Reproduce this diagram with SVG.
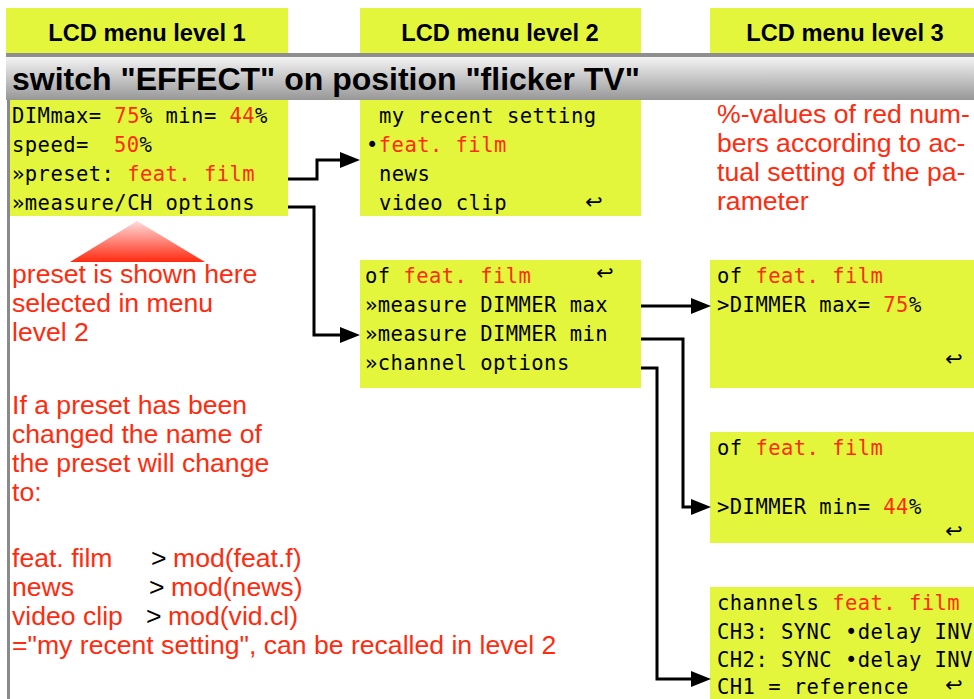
<svg xmlns="http://www.w3.org/2000/svg" width="974" height="699" viewBox="0 0 974 699">
<defs>
<linearGradient id="bar" x1="0" y1="0" x2="0" y2="1"><stop offset="0" stop-color="#f4f4f4"/><stop offset="1" stop-color="#979797"/></linearGradient>
<linearGradient id="tri" x1="0" y1="0" x2="0" y2="1"><stop offset="0" stop-color="#ffdcdc"/><stop offset="1" stop-color="#ff2a10"/></linearGradient>
<marker id="ah" markerUnits="userSpaceOnUse" markerWidth="20" markerHeight="16" refX="0" refY="8" orient="auto"><path d="M0,0 L20,8 L0,16 z" fill="#000"/></marker>
</defs>
<style>
.lcd{fill:#e3f63b}
.mono{font-family:"DejaVu Sans Mono","DejaVu Sans",monospace;font-size:20.5px;letter-spacing:0.45px;fill:#000;white-space:pre}
.ret{font-family:"DejaVu Sans",sans-serif;font-size:21px;fill:#000}
.r{fill:#ff2b0e}
.hd{font-family:"Liberation Sans",Arial,sans-serif;font-weight:bold;font-size:23.7px;fill:#000;text-anchor:middle}
.note{font-family:"Liberation Sans",Arial,sans-serif;font-size:26.6px;fill:#ff2b0e}
.blk{fill:#000}
.conn{fill:none;stroke:#000;stroke-width:3}
</style>
<rect width="974" height="699" fill="#fff"/>
<g id="header1"><rect class="lcd" x="6" y="8" width="282" height="45"/><text class="hd" x="147" y="41">LCD menu level 1</text></g>
<g id="header2"><rect class="lcd" x="360" y="8" width="281" height="45"/><text class="hd" x="500" y="41">LCD menu level 2</text></g>
<g id="header3"><rect class="lcd" x="710" y="8" width="264" height="45"/><text class="hd" x="845" y="41">LCD menu level 3</text></g>
<g id="titlebar">
<rect x="6" y="53" width="968" height="4" fill="#8e8e8e"/>
<rect x="6" y="57" width="968" height="43" fill="url(#bar)"/>
<text x="12" y="90" font-family="Liberation Sans,Arial,sans-serif" font-weight="bold" font-size="32" fill="#000">switch "EFFECT" on position "flicker TV"</text>
</g>
<rect x="7" y="100" width="3" height="599" fill="#8a8a8a"/>
<g id="l1menu">
<rect class="lcd" x="10" y="100" width="278" height="116"/>
<text class="mono" x="12" y="123">DIMmax= <tspan class="r">75</tspan>% min= <tspan class="r">44</tspan>%</text>
<text class="mono" x="12" y="152">speed=<tspan x="114" class="r">50</tspan>%</text>
<text class="mono" x="12" y="181">»preset: <tspan class="r">feat. film</tspan></text>
<text class="mono" x="12" y="210">»measure/CH options</text>
</g>
<g id="l2presets">
<rect class="lcd" x="360" y="100" width="281" height="116"/>
<text class="mono" x="379" y="123">my recent setting</text>
<text class="mono" x="366" y="152">•<tspan class="r">feat. film</tspan></text>
<text class="mono" x="379" y="181">news</text>
<text class="mono" x="379" y="210">video clip</text>
<text class="ret" x="585" y="209">↩</text>
</g>
<g id="l2measure">
<rect class="lcd" x="360" y="260" width="281" height="128"/>
<text class="mono" x="365" y="283">of <tspan class="r">feat. film</tspan></text>
<text class="ret" x="596" y="280">↩</text>
<text class="mono" x="365" y="312">»measure DIMMER max</text>
<text class="mono" x="365" y="341">»measure DIMMER min</text>
<text class="mono" x="365" y="370">»channel options</text>
</g>
<g id="l3note">
<text class="note" x="717" y="123">%-values of red num-</text>
<text class="note" x="717" y="152">bers according to ac-</text>
<text class="note" x="717" y="181">tual setting of the pa-</text>
<text class="note" x="717" y="210">rameter</text>
</g>
<g id="l3max">
<rect class="lcd" x="710" y="260" width="264" height="128"/>
<text class="mono" x="717" y="283">of <tspan class="r">feat. film</tspan></text>
<text class="mono" x="717" y="312">&gt;DIMMER max= <tspan class="r">75</tspan>%</text>
<text class="ret" x="945" y="366">↩</text>
</g>
<g id="l3min">
<rect class="lcd" x="710" y="432" width="264" height="111"/>
<text class="mono" x="717" y="455">of <tspan class="r">feat. film</tspan></text>
<text class="mono" x="717" y="514">&gt;DIMMER min= <tspan class="r">44</tspan>%</text>
<text class="ret" x="945" y="538">↩</text>
</g>
<g id="l3channels">
<rect class="lcd" x="710" y="587" width="264" height="112"/>
<text class="mono" x="717" y="610">channels <tspan class="r">feat. film</tspan></text>
<text class="mono" x="717" y="639">CH3: SYNC •delay INV</text>
<text class="mono" x="717" y="667">CH2: SYNC •delay INV</text>
<text class="mono" x="717" y="694">CH1 = reference</text>
<text class="ret" x="945" y="692">↩</text>
</g>
<g id="pointer">
<polygon points="70,262 205,262 137,221" fill="url(#tri)"/>
</g>
<g id="leftnotes">
<text class="note" x="12" y="283">preset is shown here</text>
<text class="note" x="12" y="312">selected in menu</text>
<text class="note" x="12" y="341">level 2</text>
<text class="note" x="12" y="414">If a preset has been</text>
<text class="note" x="12" y="443">changed the name of</text>
<text class="note" x="12" y="472">the preset will change</text>
<text class="note" x="12" y="501">to:</text>
<text class="note" x="12" y="567">feat. film</text><text class="note blk" x="151" y="567">&gt;</text><text class="note" x="173" y="567">mod(feat.f)</text>
<text class="note" x="12" y="596">news</text><text class="note blk" x="149" y="596">&gt;</text><text class="note" x="171" y="596">mod(news)</text>
<text class="note" x="12" y="625">video clip</text><text class="note blk" x="146" y="625">&gt;</text><text class="note" x="168" y="625">mod(vid.cl)</text>
<text class="note" x="12" y="654">="my recent setting", can be recalled in level 2</text>
</g>
<g id="connectors">
<path class="conn" d="M288,179 H317 V160 H340" marker-end="url(#ah)"/>
<path class="conn" d="M288,207 H314 V335 H340" marker-end="url(#ah)"/>
<path class="conn" d="M641,306 H691" marker-end="url(#ah)"/>
<path class="conn" d="M641,339 H683 V507 H691" marker-end="url(#ah)"/>
<path class="conn" d="M641,368 H657 V679 H691" marker-end="url(#ah)"/>
</g>
</svg>
